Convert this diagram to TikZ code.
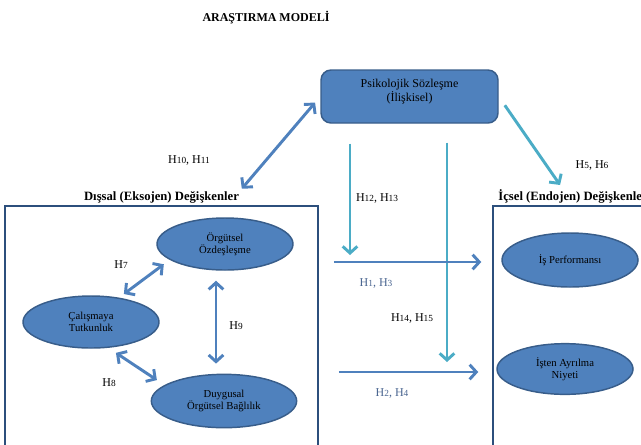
\documentclass[tikz,border=0pt]{standalone}
\usepackage{fontspec}
\setmainfont{Liberation Serif}
\usetikzlibrary{
  shapes.geometric,
  positioning,
  arrows.meta
}
\definecolor{varfill}{HTML}{4F81BD}
\definecolor{varedge}{HTML}{385D8A}
\definecolor{framec}{HTML}{2C4F7C}
\definecolor{tealc}{HTML}{4BACC6}
\definecolor{labc}{HTML}{4A6590}
\newcommand{\hyp}[1]{H{\fontsize{7}{7}\selectfont #1}}
\tikzset{
  >={Straight Barb[length=5pt,width=11pt]},
  varnode/.style={ellipse, draw=varedge, line width=1.1pt, fill=varfill,
    minimum width=102pt, minimum height=39pt, inner sep=0pt, align=center,
    font=\fontsize{8}{9}\selectfont},
  pskbox/.style={draw=varedge, line width=1.1pt, fill=varfill, rounded corners=7.5pt,
    minimum width=132.75pt, minimum height=39.75pt},
  grpbox/.style={draw=framec, line width=1.3pt, inner sep=0pt},
  grplab/.style={font=\bfseries\fontsize{9.5}{11}\selectfont, inner sep=1pt},
  hlab/.style={font=\fontsize{9}{10}\selectfont, inner sep=0pt},
  dbl/.style={<->, line width=2.2pt, draw=varfill},
  hor/.style={->, line width=2.2pt, draw=varfill},
  ver/.style={->, line width=2.2pt, draw=tealc}
}

\begin{document}
\begin{tikzpicture}[x=0.75pt, y=-0.75pt]
    \useasboundingbox (0,0) rectangle (641,444);

    \node[font=\bfseries\fontsize{9}{10}\selectfont] (title) at (266,18) {ARAŞTIRMA MODELİ};

    \node[pskbox, label={[yshift=3.75pt, align=center, font=\fontsize{9}{10.5}\selectfont]center:Psikolojik Sözleşme\\(İlişkisel)}] (psk) at (409.5,96.5) {};

    % group frames
    \node[grpbox, minimum width=234.75pt, minimum height=180pt] (dis) at (161.5,326) {};
    \node[grpbox, minimum width=120pt, minimum height=180pt] (ice) at (573,326) {};
    \node[grplab, above=0pt of dis] (dlab) {Dışsal (Eksojen) Değişkenler};
    \node[grplab, above=0pt of ice] (ilab) {İçsel (Endojen) Değişkenler};

    % exogenous
    \node[varnode] (org) at (225,244) {Örgütsel\\Özdeşleşme};
    \node[varnode] (cal) at (91,322) {Çalışmaya\\Tutkunluk};
    \node[varnode, minimum width=109pt, minimum height=40pt] (dur) at (224,401) {Duygusal\\Örgütsel Bağlılık};

    % endogenous
    \node[varnode, minimum height=40.5pt] (ips) at (570,260) {İş Performansı};
    \node[varnode, minimum height=38pt] (ayr) at (565,369) {İşten Ayrılma\\Niyeti};

    \coordinate (j1) at (350,262);
    \coordinate (j2) at (447,372);

    \draw[dbl, shorten <=6pt, shorten >=1.5pt] (psk.west) -- (dlab.north east);
    \draw[ver, shorten <=8pt, shorten >=3pt] (psk.east) -- ([xshift=-8pt]ilab.north);

    \draw[ver, shorten <=15pt, shorten >=5.25pt] (psk.south -| j1) -- (j1);
    \draw[ver, shorten <=14.25pt, shorten >=7.5pt] (psk.south -| j2) -- (j2);

    \draw[hor, shorten <=11.25pt, shorten >=15pt] (j1 -| dis.east) -- (j1 -| ips.west);
    \draw[hor, shorten <=15pt, shorten >=13.5pt] (j2 -| dis.east) -- (j2 -| ayr.west);

    \draw[dbl, shorten <=4.5pt, shorten >=5.5pt] (cal.41) -- (org.196);
    \draw[dbl, shorten <=6.75pt, shorten >=6.75pt] (cal.-56) -- (dur.165);
    \draw[dbl, shorten <=7.5pt, shorten >=7.5pt] ([xshift=-6.75pt]org.south) -- ([xshift=-6pt]dur.north);

    % hypotheses
    \node[hlab] (h1011) at (189,160) {\hyp{10}, \hyp{11}};
    \node[hlab] (h56) at (592,165) {\hyp{5}, \hyp{6}};
    \node[hlab] (h1213) at (377,198) {\hyp{12}, \hyp{13}};
    \node[hlab, text=labc] (h13) at (376,283) {\hyp{1}, \hyp{3}};
    \node[hlab] (h1415) at (412,318) {\hyp{14}, \hyp{15}};
    \node[hlab, text=labc] (h24) at (392,393) {\hyp{2}, \hyp{4}};
    \node[hlab] (h7) at (121,265) {\hyp{7}};
    \node[hlab] (h8) at (109,383) {\hyp{8}};
    \node[hlab] (h9) at (236,326) {\hyp{9}};
\end{tikzpicture}
\end{document}
